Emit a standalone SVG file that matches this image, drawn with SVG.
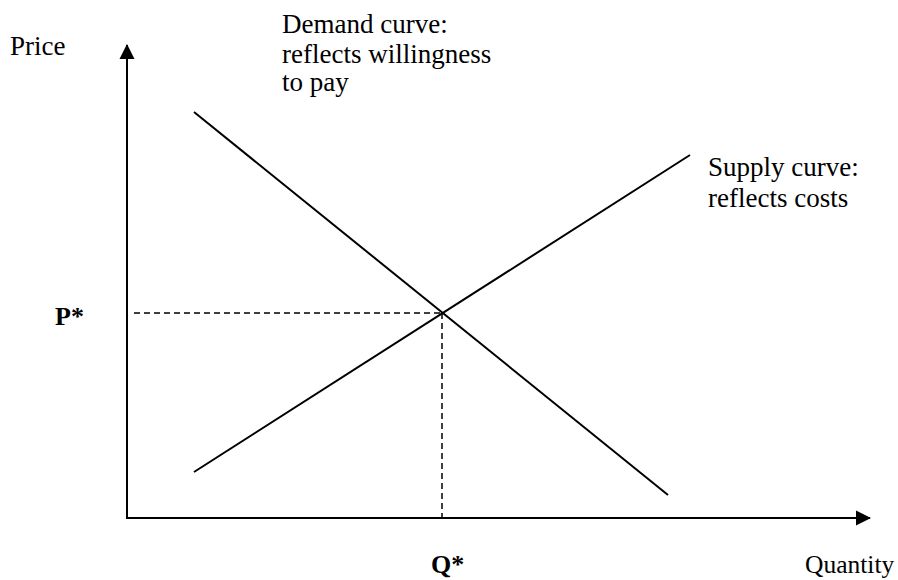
<svg xmlns="http://www.w3.org/2000/svg" width="898" height="580" viewBox="0 0 898 580">
<style>
.t{font-family:"Liberation Serif","Times New Roman",serif;font-size:27px;fill:#000}
.b{font-weight:bold;font-size:26px}
.q{font-size:25.5px}
.ax{stroke:#000;stroke-width:2;fill:none}
.ln{stroke:#000;stroke-width:2;fill:none}
.d{stroke:#000;stroke-width:1.5;stroke-dasharray:6 4;fill:none}
</style>
<defs>
<marker id="ah" markerWidth="16" markerHeight="16" refX="14" refY="8" orient="auto" markerUnits="userSpaceOnUse">
<path d="M0,0.5 L15,8 L0,15.5 Z" fill="#000"/>
</marker>
</defs>
<rect width="898" height="580" fill="#fff"/>
<g id="axes">
<line class="ax" x1="127" y1="518" x2="127" y2="45" marker-end="url(#ah)"/>
<line class="ax" x1="126" y1="518" x2="870" y2="518" marker-end="url(#ah)"/>
</g>
<g id="connectors">
<line id="demand" class="ln" x1="194" y1="112" x2="668" y2="495"/>
<line id="supply" class="ln" x1="194" y1="472" x2="690" y2="155"/>
<line class="d" x1="134" y1="313" x2="442" y2="313"/>
<line class="d" x1="442" y1="313" x2="442" y2="518"/>
</g>
<g id="label-price"><text class="t" x="10" y="55">Price</text></g>
<g id="label-demand"><text class="t" x="282" y="33">Demand curve:</text><text class="t" x="282" y="63">reflects willingness</text><text class="t" x="282" y="91">to pay</text></g>
<g id="label-supply"><text class="t" x="708" y="176">Supply curve:</text><text class="t" x="708" y="207">reflects costs</text></g>
<g id="label-p"><text class="t b" x="55" y="325">P*</text></g>
<g id="label-q"><text class="t b" x="431" y="573">Q*</text></g>
<g id="label-quantity"><text class="t q" x="805" y="573">Quantity</text></g>
</svg>
